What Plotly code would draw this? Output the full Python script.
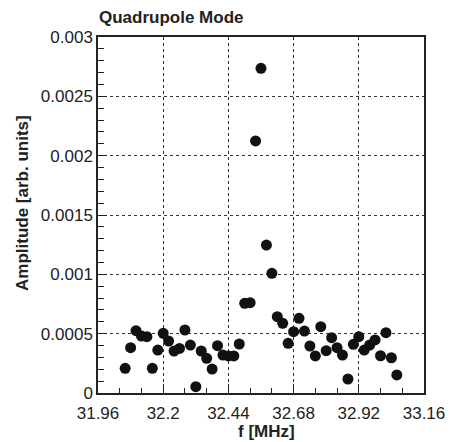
import plotly.graph_objects as go

freq_mhz = [32.06, 32.08, 32.10, 32.12, 32.14, 32.16, 32.18, 32.20, 32.22, 32.24,
            32.26, 32.28, 32.30, 32.32, 32.34, 32.36, 32.38, 32.40, 32.42, 32.44,
            32.46, 32.48, 32.50, 32.52, 32.54, 32.56, 32.58, 32.60, 32.62, 32.64,
            32.66, 32.68, 32.70, 32.72, 32.74, 32.76, 32.78, 32.80, 32.82, 32.84,
            32.86, 32.88, 32.90, 32.92, 32.94, 32.96, 32.98, 33.00, 33.02, 33.04,
            33.06]
amplitude = [0.000208, 0.000382, 0.000525, 0.000480, 0.000475, 0.000208, 0.000362, 0.000503,
             0.000438, 0.000354, 0.000376, 0.000531, 0.000404, 0.000053, 0.000354, 0.000292,
             0.000202, 0.000399, 0.000320, 0.000312, 0.000312, 0.000413, 0.000756, 0.000761,
             0.002124, 0.002736, 0.001247, 0.001009, 0.000643, 0.000587, 0.000419, 0.000517,
             0.000629, 0.000522, 0.000396, 0.000312, 0.000559, 0.000357, 0.000466, 0.000382,
             0.000320, 0.000118, 0.000410, 0.000475, 0.000362, 0.000404, 0.000447, 0.000314,
             0.000508, 0.000297, 0.000152]

x_ticks = [31.96, 32.2, 32.44, 32.68, 32.92, 33.16]
x_tick_labels = ["31.96", "32.2", "32.44", "32.68", "32.92", "33.16"]
y_ticks = [0, 0.0005, 0.001, 0.0015, 0.002, 0.0025, 0.003]
y_tick_labels = ["0", "0.0005", "0.001", "0.0015", "0.002", "0.0025", "0.003"]

title_text = "Quadrupole Mode"
x_title = "f [MHz]"
y_title = "Amplitude [arb. units]"

FONT = "Liberation Sans, Arial, Helvetica, sans-serif"

fig = go.Figure()
fig.add_trace(go.Scatter(
    x=freq_mhz, y=amplitude, mode="markers",
    marker=dict(size=11, color="#111111", line=dict(width=0)),
    showlegend=False, cliponaxis=False,
))

axis_common = dict(
    showline=True, linecolor="#222222", linewidth=1.5, mirror=True,
    showgrid=True, gridcolor="#333333", gridwidth=1, griddash="dot",
    ticks="inside", ticklen=9, tickwidth=1, tickcolor="#222222",
    zeroline=False,
    tickfont=dict(family=FONT, size=17, color="#222222"),
)

fig.update_xaxes(
    range=[31.96, 33.16], tickvals=x_ticks, ticktext=x_tick_labels,
    ticklabelstandoff=4,
    minor=dict(dtick=0.08, tick0=31.96, ticks="inside", ticklen=5, tickcolor="#222222", showgrid=False),
    **axis_common,
)
fig.update_yaxes(
    range=[0, 0.003], tickvals=y_ticks, ticktext=y_tick_labels,
    minor=dict(dtick=0.0001, tick0=0, ticks="inside", ticklen=6, tickcolor="#222222", showgrid=False),
    **axis_common,
)

fig.update_layout(
    width=457, height=442,
    margin=dict(l=98, r=23, t=37, b=49),
    paper_bgcolor="white", plot_bgcolor="white",
    font=dict(family=FONT, color="#222222"),
    annotations=[
        dict(text="<b>" + title_text + "</b>", xref="paper", yref="paper",
             x=0, y=1, xanchor="left", yanchor="bottom", yshift=8, xshift=-1,
             showarrow=False, font=dict(family=FONT, size=17, color="#222222")),
        dict(text="<b>" + x_title + "</b>", xref="paper", yref="paper",
             x=0.5, y=0, xanchor="center", yanchor="middle", yshift=-38, xshift=5,
             showarrow=False, font=dict(family=FONT, size=17, color="#222222")),
        dict(text="<b>" + y_title + "</b>", xref="paper", yref="paper",
             x=0, y=0.5, xanchor="center", yanchor="middle", xshift=-76, yshift=12,
             textangle=-90,
             showarrow=False, font=dict(family=FONT, size=17, color="#222222")),
    ],
)

fig.write_html("out.html")
